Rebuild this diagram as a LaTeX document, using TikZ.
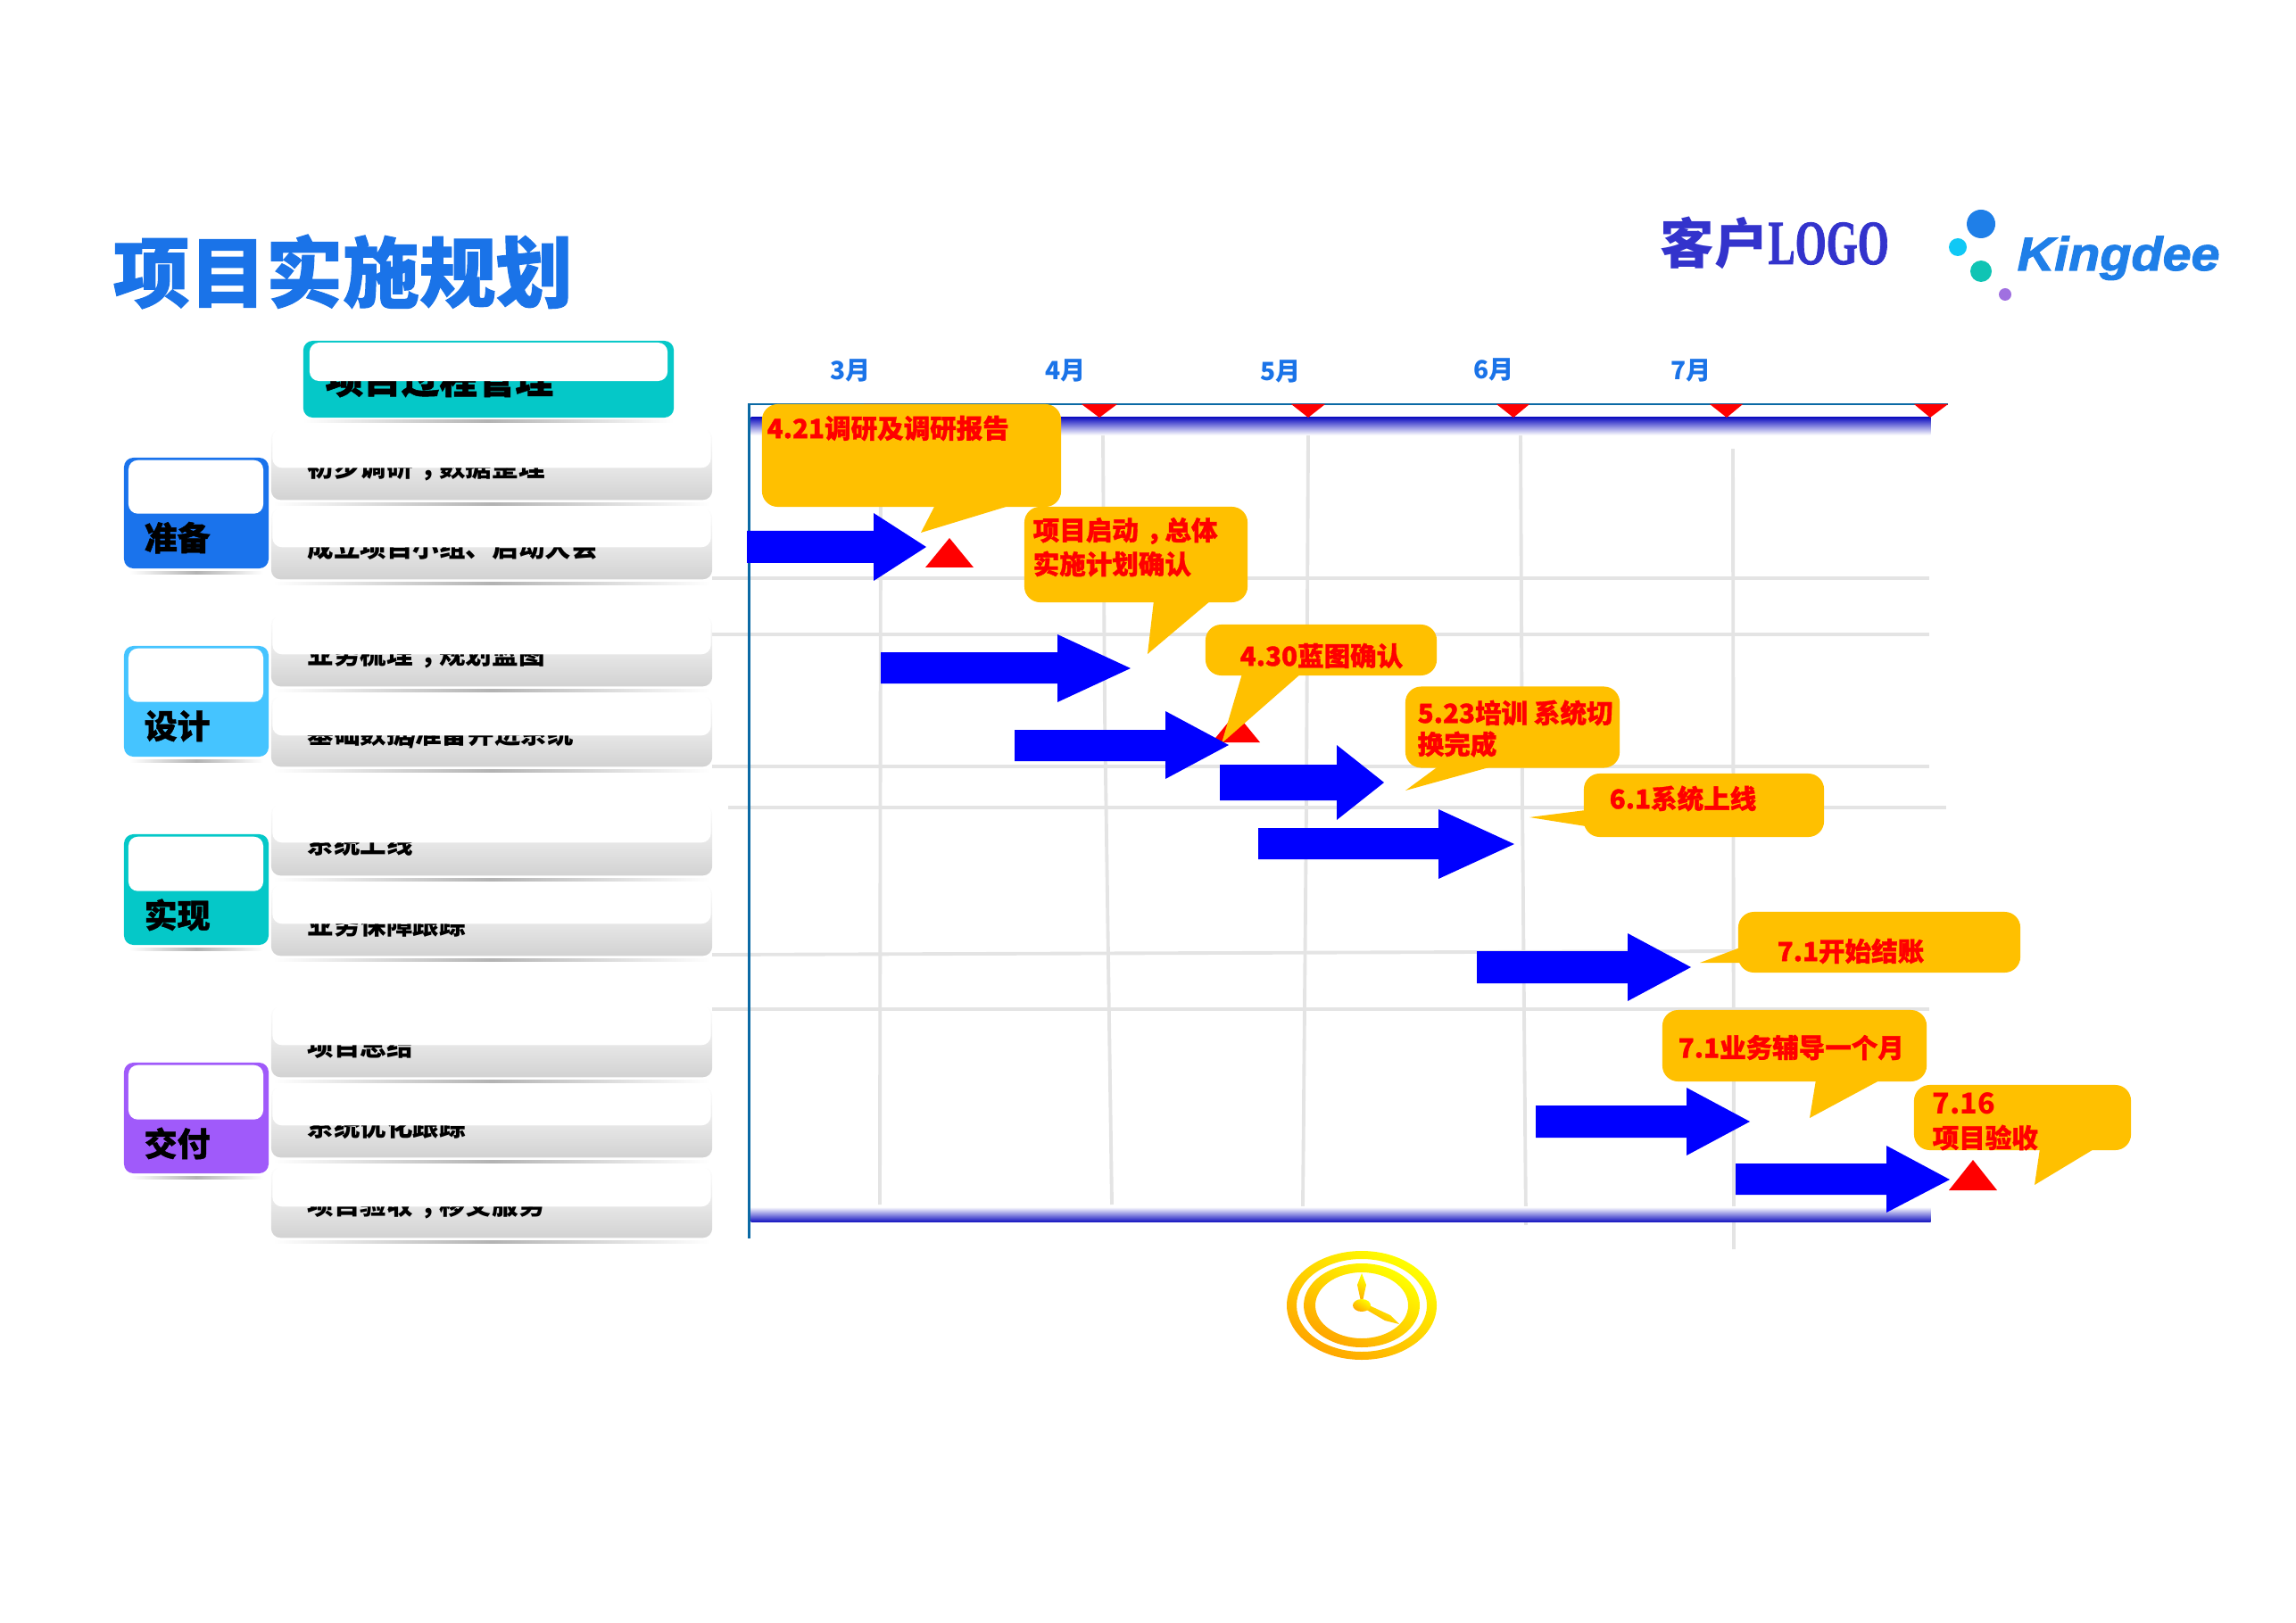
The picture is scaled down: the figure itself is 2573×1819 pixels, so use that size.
\documentclass[tikz,border=0pt]{standalone}
\usepackage{fontspec}
\setmainfont{Noto Sans CJK SC}
\newfontfamily\heavyfont{Noto Sans CJK SC}[BoldFeatures={FakeBold=1.2}]
\newfontfamily\serifbold{Liberation Serif}[BoldFeatures={FakeBold=1.5}]
\newfontfamily\logofont{Liberation Sans}[BoldItalicFeatures={FakeBold=2}]
\usepackage{tikz}
\newcommand{\zhcomma}{\hspace*{.3em}，\hspace*{-.3em}}
\definecolor{titleblue}{HTML}{1A73E8}
\definecolor{stageblue}{HTML}{1A73EC}
\definecolor{stagesky}{HTML}{45C4FF}
\definecolor{stageteal}{HTML}{05C8C8}
\definecolor{stagepurple}{HTML}{A05AFA}
\definecolor{framecolor}{HTML}{0B6AA5}
\definecolor{gridgray}{HTML}{E4E4E4}
\definecolor{barlow}{HTML}{D2D2D2}
\definecolor{bandblue}{HTML}{1010C0}
\definecolor{calloutfill}{HTML}{FFC000}
\definecolor{logoblue}{HTML}{3333CC}
\definecolor{kingdeeblue}{HTML}{1F7FE8}
\definecolor{clockorange}{HTML}{FFA500}
\tikzstyle{pagetitle} = [anchor=west, inner sep=0pt, text=titleblue, font=\heavyfont\bfseries\fontsize{24.4}{28}\selectfont]
\tikzstyle{headbox} = [rectangle, rounded corners=3pt, fill=stageteal, minimum width=4.15cm, minimum height=0.86cm, inner sep=0pt]
\tikzstyle{headtext} = [anchor=south west, inner sep=0pt, font=\heavyfont\bfseries\fontsize{12.1}{14}\selectfont]
\tikzstyle{rowbar} = [rectangle, rounded corners=3pt, anchor=south, minimum width=4.94cm, minimum height=0.8cm, inner sep=0pt, top color=white, bottom color=barlow]
\tikzstyle{rowcover} = [rectangle, rounded corners=3pt, anchor=south, fill=white, minimum width=4.91cm, minimum height=0.44cm, inner sep=0pt]
\tikzstyle{rowtext} = [anchor=south west, inner sep=0pt, yshift=-0.03cm, font=\bfseries\fontsize{8.4}{10}\selectfont]
\tikzstyle{stagebox} = [rectangle, rounded corners=3pt, minimum width=1.62cm, minimum height=1.24cm, inner sep=0pt]
\tikzstyle{stagecover} = [rectangle, rounded corners=3pt, anchor=north, fill=white, minimum width=1.51cm, inner sep=0pt]
\tikzstyle{stagetext} = [anchor=south west, inner sep=0pt, font=\heavyfont\bfseries\fontsize{10.5}{12}\selectfont]
\tikzstyle{shadowline} = [rectangle, minimum height=0.035cm, inner sep=0pt, left color=white, right color=white, middle color=black!30]
\tikzstyle{month} = [inner sep=0pt, text=titleblue, font=\bfseries\fontsize{8}{9}\selectfont]
\tikzstyle{gridline} = [gridgray, line width=1.1pt]
\tikzstyle{frameline} = [framecolor, line width=0.85pt]
\tikzstyle{band} = [rectangle, anchor=north west, minimum width=13.21cm, inner sep=0pt]
\tikzstyle{callout} = [rectangle, rounded corners=5pt, fill=calloutfill, inner sep=0pt]
\tikzstyle{tail} = [calloutfill]
\tikzstyle{calltext} = [anchor=west, inner sep=0pt, text=red, font=\heavyfont\bfseries\fontsize{8.4}{10}\selectfont]
\tikzstyle{bararrow} = [blue]
\tikzstyle{marker} = [red]
\tikzstyle{clockpart} = [left color=yellow, right color=clockorange, shading angle=-30]

\begin{document}
\begin{tikzpicture}[x=0.01cm, y=-0.01cm]
\useasboundingbox (0,0) rectangle (2573,1819);

% title and logos
\node (title) [pagetitle] at (126,304.5) {项目实施规划};
\node (client) [anchor=west, inner sep=0pt, text=logoblue, font=\bfseries\fontsize{17.2}{20}\selectfont] at (1860,272) {客户};
\node (clientlogo) [anchor=west, inner sep=0pt, text=logoblue, font=\serifbold\bfseries\fontsize{20}{22}\selectfont] at (1981,273) {\scalebox{0.64}[1]{LOGO}};
\fill [kingdeeblue] (2220,251) circle [radius=16];
\fill [color={rgb,255:red,16;green,200;blue,245}] (2194,277) circle [radius=10];
\fill [color={rgb,255:red,16;green,196;blue,180}] (2220,304) circle [radius=12];
\fill [color={rgb,255:red,160;green,112;blue,224}] (2247,330) circle [radius=7];
\node (kingdee) [anchor=base west, inner sep=0pt, text=kingdeeblue, font=\logofont\bfseries\itshape\fontsize{15}{18}\selectfont] at (2260,303) {\scalebox{1.09}[1]{Kingdee}};

% grid
\draw [gridline] (987,490) -- (986,1350);
\draw [gridline] (1236,487) -- (1238,800) -- (1246,1350);
\draw [gridline] (1466,487) -- (1464,900) -- (1460,1352);
\draw [gridline] (1704,487) -- (1706,900) -- (1710,1373);
\draw [gridline] (1942,503) -- (1943,1400);
\draw [gridline] (798,648) -- (2162,648);
\draw [gridline] (798,711) -- (2162,711);
\draw [gridline] (798,859) -- (2162,859);
\draw [gridline] (816,905) -- (2181,905);
\draw [gridline] (798,1070) -- (1945,1066);
\draw [gridline] (798,1131) -- (2162,1131);

% time axis
\node (bandtop) [band, minimum height=0.2cm, top color=bandblue, bottom color=white] at (841,467) {};
\node (bandbottom) [band, minimum height=0.17cm, top color=white, bottom color=bandblue] at (841,1352) {};
\draw [frameline] (2183,453) -- (839,453) -- (839,1388);
\fill [marker] (968,453) -- (1008,453) -- (988,468) -- cycle;
\fill [marker] (1212,453) -- (1252,453) -- (1232,468) -- cycle;
\fill [marker] (1447,453) -- (1485,453) -- (1466,468) -- cycle;
\fill [marker] (1677,453) -- (1714,453) -- (1696,468) -- cycle;
\fill [marker] (1916,453) -- (1953,453) -- (1935,468) -- cycle;
\fill [marker] (2145,453) -- (2183,453) -- (2163,468) -- cycle;
\node (m3) [month] at (953,415) {3月};
\node (m4) [month] at (1194,415) {4月};
\node (m5) [month] at (1435,416) {5月};
\node (m6) [month] at (1674,414) {6月};
\node (m7) [month] at (1895,415) {7月};

% header
\node (headshadow) [shadowline, minimum width=4.15cm] at (547,472) {};
\node (head) [headbox] at (547.5,425) {};
\node (headlabel) [headtext] at (364,446) {项目过程管理};
\node (headcover) [rectangle, rounded corners=3pt, fill=white, minimum width=4.01cm, minimum height=0.43cm, inner sep=0pt] at (547.5,405.5) {};

% stages
\node (s1shadow) [shadowline, minimum width=1.5cm] at (220,642) {};
\node (s1) [stagebox, fill=stageblue] at (220,575) {};
\node (s1cover) [stagecover, minimum height=0.6cm] at (219.5,515) {};
\node (s1label) [stagetext] at (161,621) {准备};
\node (s2shadow) [shadowline, minimum width=1.5cm] at (220,853) {};
\node (s2) [stagebox, fill=stagesky] at (220,786) {};
\node (s2cover) [stagecover, minimum height=0.6cm] at (219.5,726) {};
\node (s2label) [stagetext] at (161,832) {设计};
\node (s3shadow) [shadowline, minimum width=1.5cm] at (220,1064) {};
\node (s3) [stagebox, fill=stageteal] at (220,997) {};
\node (s3cover) [stagecover, minimum height=0.61cm] at (219.5,937) {};
\node (s3label) [stagetext] at (161,1044) {实现};
\node (s4shadow) [shadowline, minimum width=1.5cm] at (220,1320) {};
\node (s4) [stagebox, fill=stagepurple] at (220,1253) {};
\node (s4cover) [stagecover, minimum height=0.61cm] at (219.5,1193) {};
\node (s4label) [stagetext] at (161,1300) {交付};

% rows
\node (r1shadow) [shadowline, minimum width=4.9cm] at (551,565) {};
\node (r1) [rowbar] at (551,561) {};
\node (r1label) [rowtext] at (344,537) {初步调研\zhcomma 数据整理};
\node (r1cover) [rowcover] at (551,525) {};
\node (r2shadow) [shadowline, minimum width=4.9cm] at (551,654) {};
\node (r2) [rowbar] at (551,650) {};
\node (r2label) [rowtext] at (344,625) {成立项目小组、启动大会};
\node (r2cover) [rowcover] at (551,614) {};
\node (r3shadow) [shadowline, minimum width=4.9cm] at (551,774) {};
\node (r3) [rowbar] at (551,770) {};
\node (r3label) [rowtext] at (344,747) {业务梳理\zhcomma 规划蓝图};
\node (r3cover) [rowcover] at (551,734) {};
\node (r4shadow) [shadowline, minimum width=4.9cm] at (551,864) {};
\node (r4) [rowbar] at (551,860) {};
\node (r4label) [rowtext] at (344,837) {基础数据\hspace{-.15em}/\hspace{-.15em}准备并进系统};
\node (r4cover) [rowcover] at (551,825) {};
\node (r5shadow) [shadowline, minimum width=4.9cm] at (551,986) {};
\node (r5) [rowbar] at (551,982) {};
\node (r5label) [rowtext] at (344,957) {系统上线};
\node (r5cover) [rowcover] at (551,945) {};
\node (r6shadow) [shadowline, minimum width=4.9cm] at (551,1076) {};
\node (r6) [rowbar] at (551,1072) {};
\node (r6label) [rowtext] at (344,1048) {业务保障跟踪};
\node (r6cover) [rowcover] at (551,1036) {};
\node (r7shadow) [shadowline, minimum width=4.9cm] at (551,1212) {};
\node (r7) [rowbar] at (551,1208) {};
\node (r7label) [rowtext] at (344,1184) {项目总结};
\node (r7cover) [rowcover] at (551,1172) {};
\node (r8shadow) [shadowline, minimum width=4.9cm] at (551,1302) {};
\node (r8) [rowbar] at (551,1298) {};
\node (r8label) [rowtext] at (344,1274) {系统优化跟踪};
\node (r8cover) [rowcover] at (551,1262) {};
\node (r9shadow) [shadowline, minimum width=4.9cm] at (551,1392) {};
\node (r9) [rowbar] at (551,1388) {};
\node (r9label) [rowtext] at (344,1364) {项目验收\zhcomma 移交服务};
\node (r9cover) [rowcover] at (551,1353) {};

% markers under the callouts
\fill [marker] (1037,636) -- (1091,636) -- (1064,603) -- cycle;
\fill [marker] (1358,832) -- (1412,832) -- (1385,799) -- cycle;
\fill [marker] (2184,1334) -- (2238,1334) -- (2211,1300) -- cycle;

% callouts
\node (c1) [callout, minimum width=3.35cm, minimum height=1.15cm] at (1021.5,510.5) {};
\fill [tail] (1048,566) -- (1134,566) -- (1032,597) -- cycle;
\node (c1text) [calltext] at (859,480) {4.21调研及调研报告};
\node (c2) [callout, minimum width=2.5cm, minimum height=1.07cm] at (1273,621.5) {};
\fill [tail] (1293,673) -- (1357,673) -- (1286,733) -- cycle;
\node (c2text) [calltext] at (1157,595) {项目启动\zhcomma 总体};
\node (c2more) [calltext] at (1157,632) {实施计划确认};
\node (c3) [callout, minimum width=2.59cm, minimum height=0.57cm] at (1480.5,728.5) {};
\fill [tail] (1392,755) -- (1458,755) -- (1369,833) -- cycle;
\node (c3text) [calltext] at (1389,735) {4.30蓝图确认};
\node (c4) [callout, minimum width=2.4cm, minimum height=0.91cm] at (1695,815) {};
\fill [tail] (1613,858) -- (1676,858) -- (1575,886) -- cycle;
\node (c4text) [calltext] at (1588,799) {5.23培训 系统切};
\node (c4more) [calltext] at (1588,834) {换完成};
\node (c5) [callout, minimum width=2.69cm, minimum height=0.71cm] at (1909.5,902.5) {};
\fill [tail] (1777,908) -- (1777,926) -- (1714,916) -- cycle;
\node (c5text) [calltext] at (1803,895) {6.1系统上线};
\node (c6) [callout, minimum width=3.16cm, minimum height=0.68cm] at (2106,1056) {};
\fill [tail] (1950,1062) -- (1950,1079) -- (1905,1079) -- cycle;
\node (c6text) [calltext] at (1991,1066) {7.1开始结账};
\node (c7) [callout, minimum width=2.96cm, minimum height=0.8cm] at (2011,1172) {};
\fill [tail] (2035,1210) -- (2108,1210) -- (2028,1253) -- cycle;
\node (c7text) [calltext] at (1880,1174) {7.1业务辅导一个月};
\node (c8) [callout, minimum width=2.43cm, minimum height=0.73cm] at (2266.5,1252.5) {};
\fill [tail] (2286,1287) -- (2348,1287) -- (2280,1328) -- cycle;
\node (c8text) [calltext, font=\bfseries\fontsize{9.2}{11}\selectfont] at (2165,1237) {7.16};
\node (c8more) [calltext] at (2165,1275) {项目验收};

% arrows
\fill [bararrow] (837,595) -- (979,595) -- (979,575) -- (1038,613) -- (979,651) -- (979,631) -- (837,631) -- cycle;
\fill [bararrow] (987,731) -- (1185,731) -- (1185,711) -- (1267,749) -- (1185,787) -- (1185,766) -- (987,766) -- cycle;
\fill [bararrow] (1137,818) -- (1306,818) -- (1306,797) -- (1377,835) -- (1306,873) -- (1306,853) -- (1137,853) -- cycle;
\fill [bararrow] (1367,857) -- (1498,857) -- (1498,835) -- (1551,877) -- (1498,919) -- (1498,897) -- (1367,897) -- cycle;
\fill [bararrow] (1410,928) -- (1612,928) -- (1612,907) -- (1697,946) -- (1612,985) -- (1612,963) -- (1410,963) -- cycle;
\fill [bararrow] (1655,1066) -- (1824,1066) -- (1824,1046) -- (1895,1084) -- (1824,1122) -- (1824,1102) -- (1655,1102) -- cycle;
\fill [bararrow] (1721,1239) -- (1890,1239) -- (1890,1219) -- (1961,1257) -- (1890,1295) -- (1890,1275) -- (1721,1275) -- cycle;
\fill [bararrow] (1945,1304) -- (2114,1304) -- (2114,1284) -- (2185,1322) -- (2114,1359) -- (2114,1339) -- (1945,1339) -- cycle;

% clock
\path [clockpart, even odd rule] (1526,1463) ellipse [x radius=84, y radius=61] (1526,1463) ellipse [x radius=73, y radius=52];
\path [clockpart, even odd rule] (1526,1463) ellipse [x radius=65, y radius=47] (1526,1463) ellipse [x radius=52, y radius=37];
\path [clockpart] (1526,1463) -- (1521,1440) -- (1526,1427) -- (1531,1440) -- cycle;
\path [clockpart] (1530,1461) -- (1558,1474) -- (1568,1484) -- (1552,1480) -- (1528,1466) -- cycle;
\path [clockpart] (1526,1463) ellipse [x radius=10, y radius=7];
\end{tikzpicture}
\end{document}
